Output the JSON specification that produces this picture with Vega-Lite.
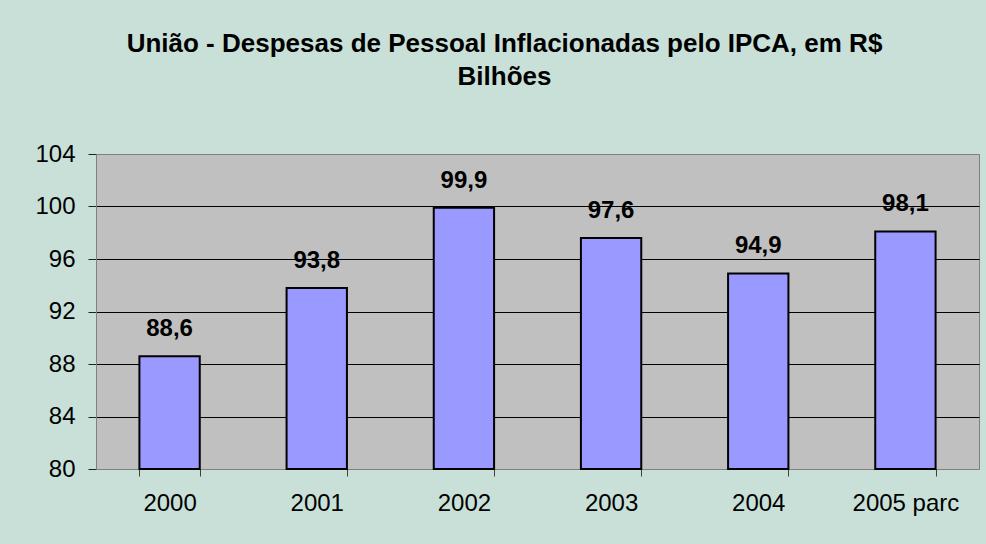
{
  "$schema": "https://vega.github.io/schema/vega-lite/v6.json",
  "width": 883,
  "height": 315,
  "autosize": {"type": "none"},
  "padding": {"left": 96, "top": 154, "right": 7, "bottom": 75},
  "background": "#C8E0D8",
  "title": {
    "text": ["União - Despesas de Pessoal Inflacionadas pelo IPCA, em R$", "Bilhões"],
    "font": "Liberation Sans",
    "fontSize": 26,
    "fontWeight": "bold",
    "color": "black",
    "anchor": "middle",
    "dx": -33,
    "lineHeight": 33,
    "offset": 52
  },
  "config": {
    "locale": {"number": {"decimal": ",", "thousands": ".", "grouping": [3], "currency": ["R$", ""]}},
    "view": {"fill": "#C0C0C0", "stroke": "#808080", "strokeWidth": 1}
  },
  "data": {
    "values": [
      {"ano": "2000", "valor": 88.6},
      {"ano": "2001", "valor": 93.8},
      {"ano": "2002", "valor": 99.9},
      {"ano": "2003", "valor": 97.6},
      {"ano": "2004", "valor": 94.9},
      {"ano": "2005 parc", "valor": 98.1}
    ]
  },
  "encoding": {
    "x": {
      "field": "ano",
      "type": "nominal",
      "sort": null,
      "scale": {"paddingInner": 0.59, "paddingOuter": 0.295},
      "axis": {
        "title": null,
        "labelAngle": 0,
        "labelFont": "Liberation Sans",
        "labelFontSize": 24,
        "labelColor": "black",
        "tickBand": "extent",
        "tickSize": 7,
        "tickColor": "#404040",
        "labelPadding": 15,
        "domainColor": "#808080",
        "grid": false
      }
    },
    "y": {
      "field": "valor",
      "type": "quantitative",
      "scale": {"domain": [80, 104], "nice": false, "zero": false},
      "axis": {
        "title": null,
        "values": [80, 84, 88, 92, 96, 100, 104],
        "labelFont": "Liberation Sans",
        "labelFontSize": 24,
        "labelColor": "black",
        "tickSize": 8,
        "tickColor": "#202020",
        "labelPadding": 13,
        "domainColor": "#808080",
        "grid": true,
        "gridColor": {"condition": {"test": "datum.value == 104 || datum.value == 80", "value": "#808080"}, "value": "#000000"},
        "gridOpacity": 1,
        "gridWidth": 1
      }
    }
  },
  "layer": [
    {
      "mark": {"type": "bar", "fill": "#9999FF", "stroke": "black", "strokeWidth": 2},
      "encoding": {"y2": {"datum": 80}}
    },
    {
      "mark": {"type": "text", "font": "Liberation Sans", "fontSize": 24, "fontWeight": "bold", "color": "black", "baseline": "alphabetic", "dy": -20},
      "encoding": {"text": {"field": "valor", "type": "quantitative", "format": ".1f"}}
    }
  ]
}
